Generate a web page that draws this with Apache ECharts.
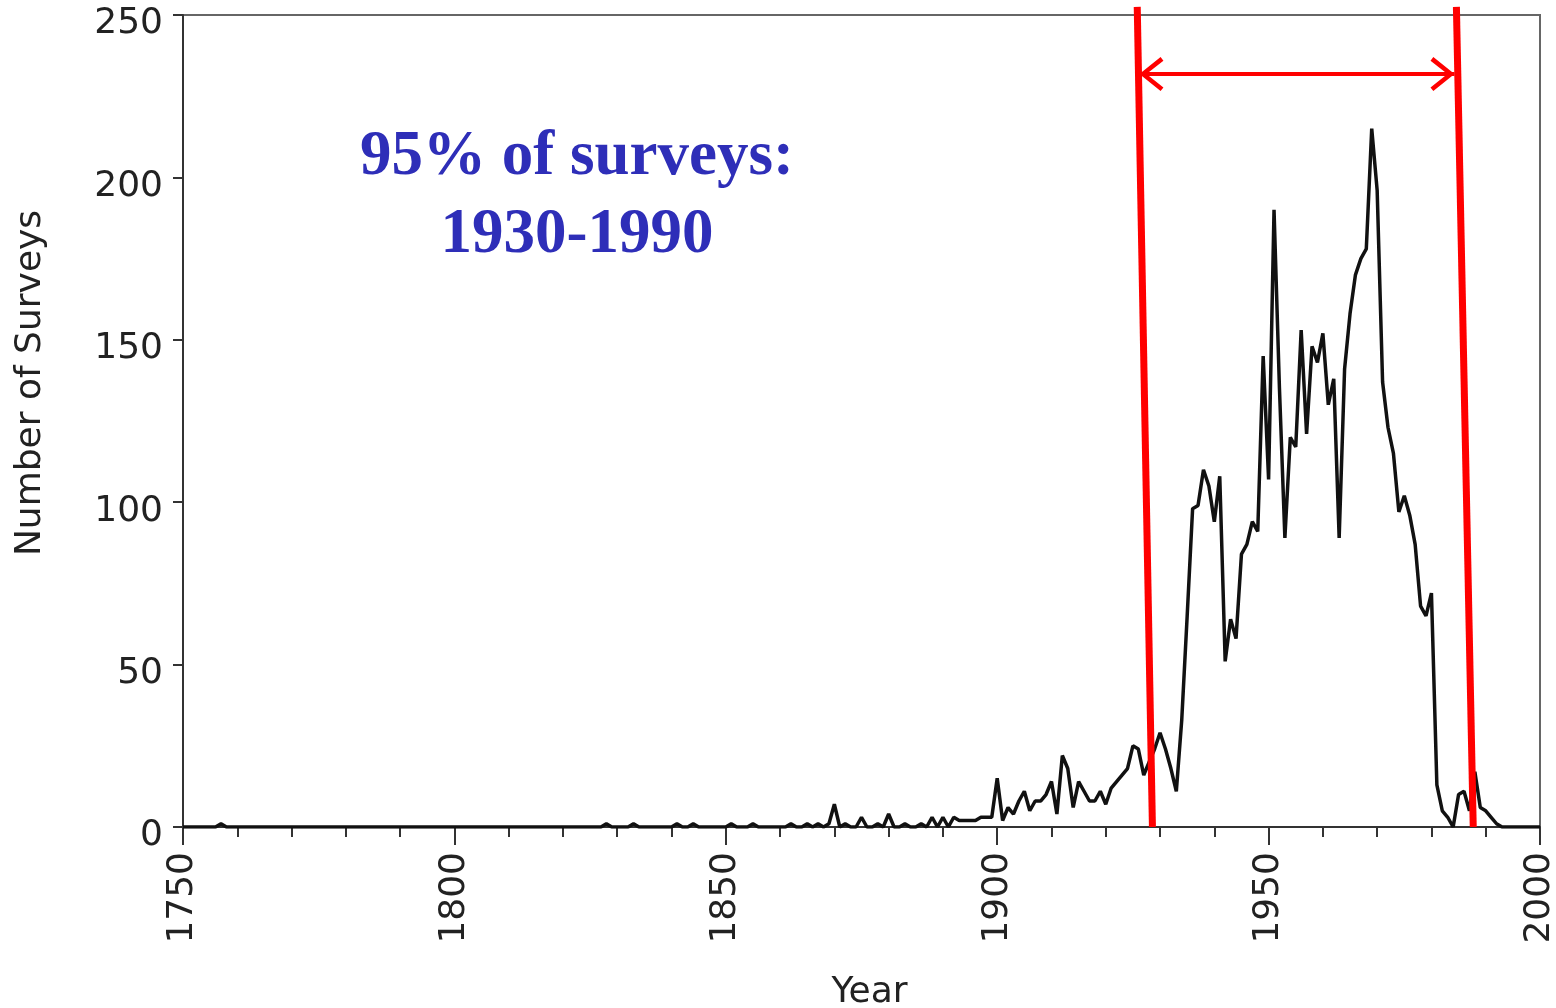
<!DOCTYPE html>
<html>
<head>
<meta charset="utf-8">
<title>Number of Surveys per Year</title>
<script src="https://cdn.jsdelivr.net/npm/echarts@6/dist/echarts.min.js"></script>
<style>
  html, body { margin: 0; padding: 0; background: #fff; }
  #chart { width: 1556px; height: 1008px; }
</style>
</head>
<body>
<div id="chart"></div>
<script>
// surveys per year, 1750 .. 2000
var firstYear = 1750;
var counts = [
  0, 0, 0, 0, 0, 0, 0, 1, 0, 0,        // 1750s
  0, 0, 0, 0, 0, 0, 0, 0, 0, 0,        // 1760s
  0, 0, 0, 0, 0, 0, 0, 0, 0, 0,        // 1770s
  0, 0, 0, 0, 0, 0, 0, 0, 0, 0,        // 1780s
  0, 0, 0, 0, 0, 0, 0, 0, 0, 0,        // 1790s
  0, 0, 0, 0, 0, 0, 0, 0, 0, 0,        // 1800s
  0, 0, 0, 0, 0, 0, 0, 0, 0, 0,        // 1810s
  0, 0, 0, 0, 0, 0, 0, 0, 1, 0,        // 1820s
  0, 0, 0, 1, 0, 0, 0, 0, 0, 0,        // 1830s
  0, 1, 0, 0, 1, 0, 0, 0, 0, 0,        // 1840s
  0, 1, 0, 0, 0, 1, 0, 0, 0, 0,        // 1850s
  0, 0, 1, 0, 0, 1, 0, 1, 0, 1,        // 1860s
  7, 0, 1, 0, 0, 3, 0, 0, 1, 0,        // 1870s
  4, 0, 0, 1, 0, 0, 1, 0, 3, 0,        // 1880s
  3, 0, 3, 2, 2, 2, 2, 3, 3, 3,        // 1890s
  15, 2, 6, 4, 8, 11, 5, 8, 8, 10,     // 1900s
  14, 4, 22, 18, 6, 14, 11, 8, 8, 11,  // 1910s
  7, 12, 14, 16, 18, 25, 24, 16, 20, 24,          // 1920s
  29, 24, 18, 11, 33, 65, 98, 99, 110, 105,       // 1930s
  94, 108, 51, 64, 58, 84, 87, 94, 91, 145,       // 1940s
  107, 190, 135, 89, 120, 117, 153, 121, 148, 143, // 1950s
  152, 130, 138, 89, 141, 158, 170, 175, 178, 215, // 1960s
  196, 137, 123, 115, 97, 102, 96, 87, 68, 65,    // 1970s
  72, 13, 5, 3, 0, 10, 11, 5, 17, 6,              // 1980s
  5, 3, 1, 0, 0, 0, 0, 0, 0, 0,                   // 1990s
  0                                               // 2000
];
var years = counts.map(function (c, i) { return firstYear + i; });

// hand-drawn red markers: [year at top, value at top], [year at bottom, 0]
var leftBound = [[1925.8, 252.5], [1928.6, 0]];
var rightBound = [[1984.6, 252.5], [1987.7, 0]];
var arrowSpan = [[1926.2, 231.8], [1984.25, 231.8]];
var noteText = '95% of surveys:\n1930-1990';

var chart = echarts.init(document.getElementById('chart'), null, { renderer: 'canvas' });

var axisFont = 'DejaVu Sans';
var red = '#ff0000';
// open chevron, tip at centre of its box (extra empty sub-path balances it)
var chevron = 'path://M12,0 L24,15 L21.5,17 L12,5 L2.5,17 L0,15 Z M12,-17 L12.01,-17 L12,-16.99 Z';

var option = {
  animation: false,
  backgroundColor: '#ffffff',
  grid: {
    left: 183, right: 16, top: 15, bottom: 181,
    outerBoundsMode: 'none',
    containLabel: false,
    show: true, borderColor: '#666', borderWidth: 2, backgroundColor: 'transparent'
  },
  xAxis: {
    type: 'value',
    min: 1750, max: 2000, interval: 50,
    name: 'Year',
    nameLocation: 'middle',
    nameGap: 148,
    nameTextStyle: { fontFamily: axisFont, fontSize: 36, color: '#222', padding: [0, 0, 0, 16] },
    axisLine: { lineStyle: { color: '#333', width: 2 } },
    axisTick: { length: 18, lineStyle: { color: '#333', width: 2 } },
    minorTick: { show: true, splitNumber: 5, length: 10, lineStyle: { color: '#333', width: 2 } },
    splitLine: { show: false },
    axisLabel: {
      rotate: 90, margin: 25,
      fontFamily: axisFont, fontSize: 36, color: '#222',
      formatter: function (v) { return String(v); }
    }
  },
  yAxis: {
    type: 'value',
    min: 0, max: 250, interval: 50,
    name: 'Number of Surveys',
    nameLocation: 'middle',
    nameGap: 134,
    nameTextStyle: { fontFamily: axisFont, fontSize: 36, color: '#222', padding: [0, 0, 0, 76] },
    axisLine: { show: true, lineStyle: { color: '#333', width: 2 } },
    axisTick: { show: true, length: 10, lineStyle: { color: '#333', width: 2 } },
    splitLine: { show: false },
    axisLabel: {
      margin: 20,
      verticalAlign: 'top', lineHeight: 18,
      fontFamily: axisFont, fontSize: 36, color: '#222',
      formatter: function (v) { return String(v); }
    }
  },
  series: [
    {
      name: 'Surveys',
      type: 'line',
      data: years.map(function (y, i) { return [y, counts[i]]; }),
      symbol: 'none',
      lineStyle: { color: '#111', width: 3.5 },
      silent: true,
      z: 3
    },
    {
      name: 'left bound',
      type: 'line',
      data: leftBound,
      symbol: 'none',
      clip: false,
      silent: true,
      lineStyle: { color: red, width: 7 },
      z: 4
    },
    {
      name: 'right bound',
      type: 'line',
      data: rightBound,
      symbol: 'none',
      clip: false,
      silent: true,
      lineStyle: { color: red, width: 7 },
      z: 4,
      markLine: {
        silent: true,
        symbol: [chevron, chevron],
        symbolSize: [34, 48],
        label: { show: false },
        lineStyle: { color: red, width: 4, type: 'solid' },
        itemStyle: { color: red },
        emphasis: { disabled: true },
        data: [[{ coord: arrowSpan[0] }, { coord: arrowSpan[1] }]]
      }
    }
  ],
  graphic: [
    {
      type: 'text',
      x: 577,
      y: 197,
      silent: true,
      style: {
        text: noteText,
        font: 'bold 63px "Liberation Serif", "Times New Roman", serif',
        fill: '#2e2eb8',
        align: 'center',
        verticalAlign: 'middle',
        lineHeight: 78
      }
    }
  ]
};

chart.setOption(option);
</script>
</body>
</html>
